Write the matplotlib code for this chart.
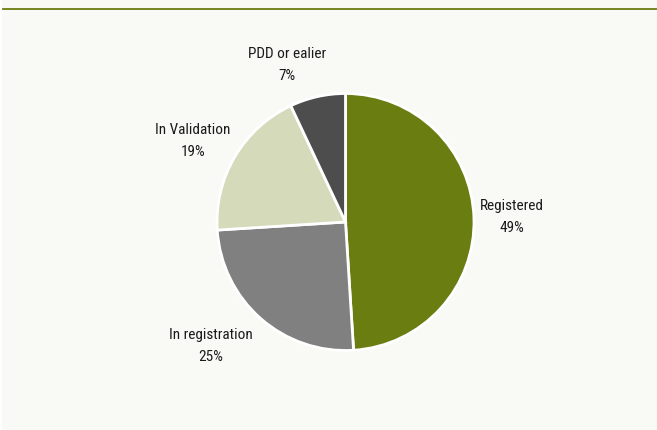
import matplotlib.pyplot as plt
from matplotlib.patches import Rectangle

# pie data
labels = ['Registered', 'In registration', 'In Validation', 'PDD or ealier']
shares = [49, 25, 19, 7]
colors = ['#6a7d10', '#808080', '#d5dabb', '#4d4d4d']

# label centres in pixel coords (y from top)
label_pos = [(512, 217), (211, 346), (193, 141), (287, 65)]

W, H = 657, 431
fig = plt.figure(figsize=(W / 100, H / 100), dpi=100)
fig.patch.set_facecolor('white')
ax = fig.add_axes([0, 0, 1, 1])

# light background panel and top rule
ax.add_patch(Rectangle((2, 0), W - 2, H, facecolor='#f9faf5', edgecolor='none', zorder=0))
ax.plot([3, W], [H - 10, H - 10], color='#6a7d10', lw=1.3, zorder=1)

ax.pie(shares, colors=colors, startangle=90, counterclock=False,
       center=(345.5, H - 223), radius=128.5,
       wedgeprops=dict(edgecolor='white', linewidth=2), frame=True)
ax.set_xlim(0, W)
ax.set_ylim(0, H)
ax.set_aspect('equal')
ax.axis('off')

for lab, val, (x, y) in zip(labels, shares, label_pos):
    ax.text(x, H - y, f'{lab}\n{val}%', ha='center', va='center',
            fontsize=11, color='#1a1a1a', linespacing=1.75,
            family=['Roboto Condensed', 'Archivo Narrow', 'DejaVu Sans'])

fig.savefig('out.png', dpi=100)
